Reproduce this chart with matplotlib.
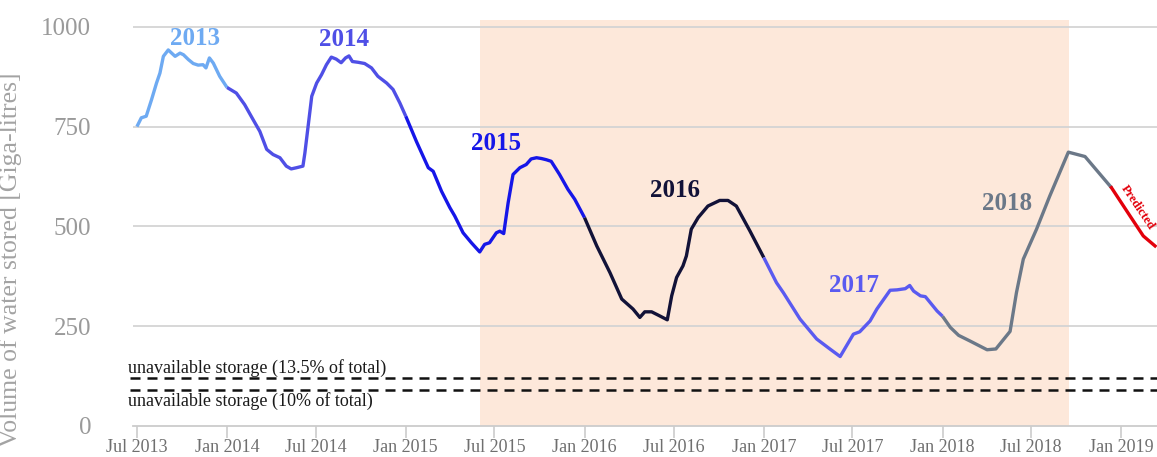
# Cape Town dam storage, coloured by year, with drought window shaded.

import matplotlib
matplotlib.use("Agg")
import matplotlib.pyplot as plt
import matplotlib.dates as mdates
import pandas as pd

plt.rcParams["font.family"] = ["Liberation Serif", "DejaVu Serif"]

# ---- data (GL) ----
dates_2013 = ["2013-07-01", "2013-07-10", "2013-07-20", "2013-07-31", "2013-08-10",
              "2013-08-17", "2013-08-24", "2013-09-03", "2013-09-10", "2013-09-17",
              "2013-09-27", "2013-10-04", "2013-10-14", "2013-10-24", "2013-11-03",
              "2013-11-13", "2013-11-19", "2013-11-26", "2013-12-04", "2013-12-17",
              "2014-01-01"]
vol_2013 = [750, 772, 776, 818, 859, 884, 926, 942, 934, 926,
            934, 930, 918, 908, 904, 905, 897, 922, 909, 876, 848]

dates_2014 = ["2014-01-01", "2014-01-20", "2014-02-06", "2014-02-23", "2014-03-09",
              "2014-03-23", "2014-04-05", "2014-04-19", "2014-05-02", "2014-05-12",
              "2014-05-23", "2014-06-05", "2014-06-09", "2014-06-23", "2014-07-03",
              "2014-07-13", "2014-07-23", "2014-08-02", "2014-08-12", "2014-08-22",
              "2014-08-31", "2014-09-07", "2014-09-14", "2014-09-26", "2014-10-09",
              "2014-10-23", "2014-11-05", "2014-11-23", "2014-12-06", "2014-12-20",
              "2015-01-01"]
vol_2014 = [848, 834, 805, 768, 738, 693, 680, 672, 651, 644,
            647, 651, 684, 826, 859, 880, 905, 924, 919, 910,
            922, 927, 913, 911, 908, 897, 876, 859, 843, 809, 776]

dates_2015 = ["2015-01-01", "2015-01-23", "2015-02-16", "2015-02-26", "2015-03-15",
              "2015-04-01", "2015-04-11", "2015-04-28", "2015-05-15", "2015-06-01",
              "2015-06-11", "2015-06-21", "2015-07-05", "2015-07-12", "2015-07-20",
              "2015-07-29", "2015-08-08", "2015-08-22", "2015-09-04", "2015-09-14",
              "2015-09-25", "2015-10-05", "2015-10-15", "2015-10-25", "2015-11-11",
              "2015-11-28", "2015-12-12", "2016-01-01"]
vol_2015 = [776, 712, 647, 638, 588, 547, 526, 484, 459, 436,
            455, 459, 484, 488, 482, 559, 630, 647, 655, 669,
            672, 670, 667, 663, 630, 593, 568, 522]

dates_2016 = ["2016-01-01", "2016-01-26", "2016-02-22", "2016-03-17", "2016-04-09",
              "2016-04-23", "2016-05-03", "2016-05-17", "2016-05-30", "2016-06-18",
              "2016-06-27", "2016-07-07", "2016-07-20", "2016-07-27", "2016-08-06",
              "2016-08-20", "2016-09-09", "2016-10-03", "2016-10-20", "2016-11-06",
              "2016-12-04", "2017-01-01"]
vol_2016 = [522, 451, 384, 318, 293, 272, 286, 286, 278, 266,
            326, 372, 401, 426, 493, 522, 551, 565, 565, 551, 488, 422]

dates_2017 = ["2017-01-01", "2017-01-27", "2017-02-10", "2017-03-16", "2017-04-19",
              "2017-05-16", "2017-06-06", "2017-07-03", "2017-07-16", "2017-08-06",
              "2017-08-20", "2017-09-16", "2017-09-30", "2017-10-17", "2017-10-26",
              "2017-11-03", "2017-11-17", "2017-11-27", "2017-12-21", "2018-01-01"]
vol_2017 = [422, 359, 334, 268, 218, 193, 174, 230, 236, 263,
            293, 340, 341, 344, 352, 338, 326, 324, 288, 275]

dates_2018 = ["2018-01-01", "2018-01-17", "2018-02-03", "2018-02-26", "2018-04-02",
              "2018-04-20", "2018-05-19", "2018-06-01", "2018-06-15", "2018-07-12",
              "2018-08-08", "2018-09-15", "2018-10-19", "2018-12-12"]
vol_2018 = [275, 247, 227, 213, 191, 193, 237, 334, 418, 493, 576, 686, 675, 597]

dates_pred = ["2018-12-12", "2019-01-19", "2019-02-15", "2019-03-11"]
vol_pred = [597, 526, 476, 451]

TOTAL_CAPACITY = 898          # GL
UNAVAILABLE_FRACS = [0.135, 0.10]
DROUGHT_START, DROUGHT_END = "2015-06-01", "2018-09-17"

SEGMENTS = [
    ("2013", dates_2013, vol_2013, "#6eaaf2", ("2013-10-28", 971)),
    ("2014", dates_2014, vol_2014, "#4f4fe6", ("2014-08-29", 967)),
    ("2015", dates_2015, vol_2015, "#1616e8", ("2015-07-04", 707)),
    ("2016", dates_2016, vol_2016, "#121238", ("2016-07-04", 589)),
    ("2017", dates_2017, vol_2017, "#5a5af0", ("2017-07-05", 352)),
    ("2018", dates_2018, vol_2018, "#6b7888", ("2018-05-13", 557)),
]
# ------------------------------------------


def main():
    fig = plt.figure(figsize=(11.57, 4.57), dpi=100)
    ax = fig.add_axes([133 / 1157, 31 / 457, 1 - 133 / 1157, 406 / 457])

    ax.axvspan(pd.Timestamp(DROUGHT_START), pd.Timestamp(DROUGHT_END),
               color="#fde8da", zorder=0, lw=0)

    for name, d, v, col, (lx, ly) in SEGMENTS:
        ax.plot(pd.to_datetime(d), v, color=col, lw=2.4, zorder=3,
                solid_capstyle="butt")
        ax.text(pd.Timestamp(lx), ly, name, color=col, fontsize=18,
                fontweight="bold", ha="center", va="center", zorder=4)

    ax.plot(pd.to_datetime(dates_pred), vol_pred, color="#e3000b", lw=2.4, zorder=3)
    ax.text(pd.Timestamp("2019-02-03"), 548, "Predicted", color="#e3000b",
            fontsize=9, fontweight="bold", rotation=-56,
            ha="center", va="center", zorder=4)

    # unavailable storage lines
    for frac in UNAVAILABLE_FRACS:
        ax.axhline(frac * TOTAL_CAPACITY, xmin=-0.003, color="#111111", lw=1.8,
                   dashes=(4, 2.8), zorder=2, clip_on=False)
    ax.text(-0.005, 132, "unavailable storage (13.5% of total)",
            transform=ax.get_yaxis_transform(), fontsize=13, color="#1a1a1a",
            ha="left", va="baseline", zorder=4, clip_on=False)
    ax.text(-0.005, 50, "unavailable storage (10% of total)",
            transform=ax.get_yaxis_transform(), fontsize=13, color="#1a1a1a",
            ha="left", va="baseline", zorder=4, clip_on=False)

    ax.set_xlim(pd.Timestamp("2013-06-23"), pd.Timestamp("2019-03-15"))
    ax.set_ylim(0, 1017)

    ax.set_yticks([0, 250, 500, 750, 1000])
    for yv in [250, 500, 750, 1000]:
        ax.axhline(yv, color="#d4d4d4", lw=1.3, zorder=1)

    ax.xaxis.set_major_locator(mdates.MonthLocator(bymonth=[1, 7]))
    ax.xaxis.set_major_formatter(mdates.DateFormatter("%b %Y"))

    for side in ["top", "right", "left"]:
        ax.spines[side].set_visible(False)
    ax.spines["bottom"].set_color("#cccccc")
    ax.spines["bottom"].set_linewidth(1.3)

    ax.tick_params(axis="x", length=8.5, width=1.2, color="#cccccc",
                   labelsize=13, labelcolor="#6f6f6f", pad=1.2)
    ax.tick_params(axis="y", length=0, labelsize=18, labelcolor="#9a9a9a", pad=30)

    ax.set_ylabel("Volume of water stored [Giga-litres]", fontsize=18.5,
                  color="#a3a3a3")
    ax.yaxis.set_label_coords(-0.108, 0.41)

    fig.savefig("out.png", dpi=100)


if __name__ == "__main__":
    main()
